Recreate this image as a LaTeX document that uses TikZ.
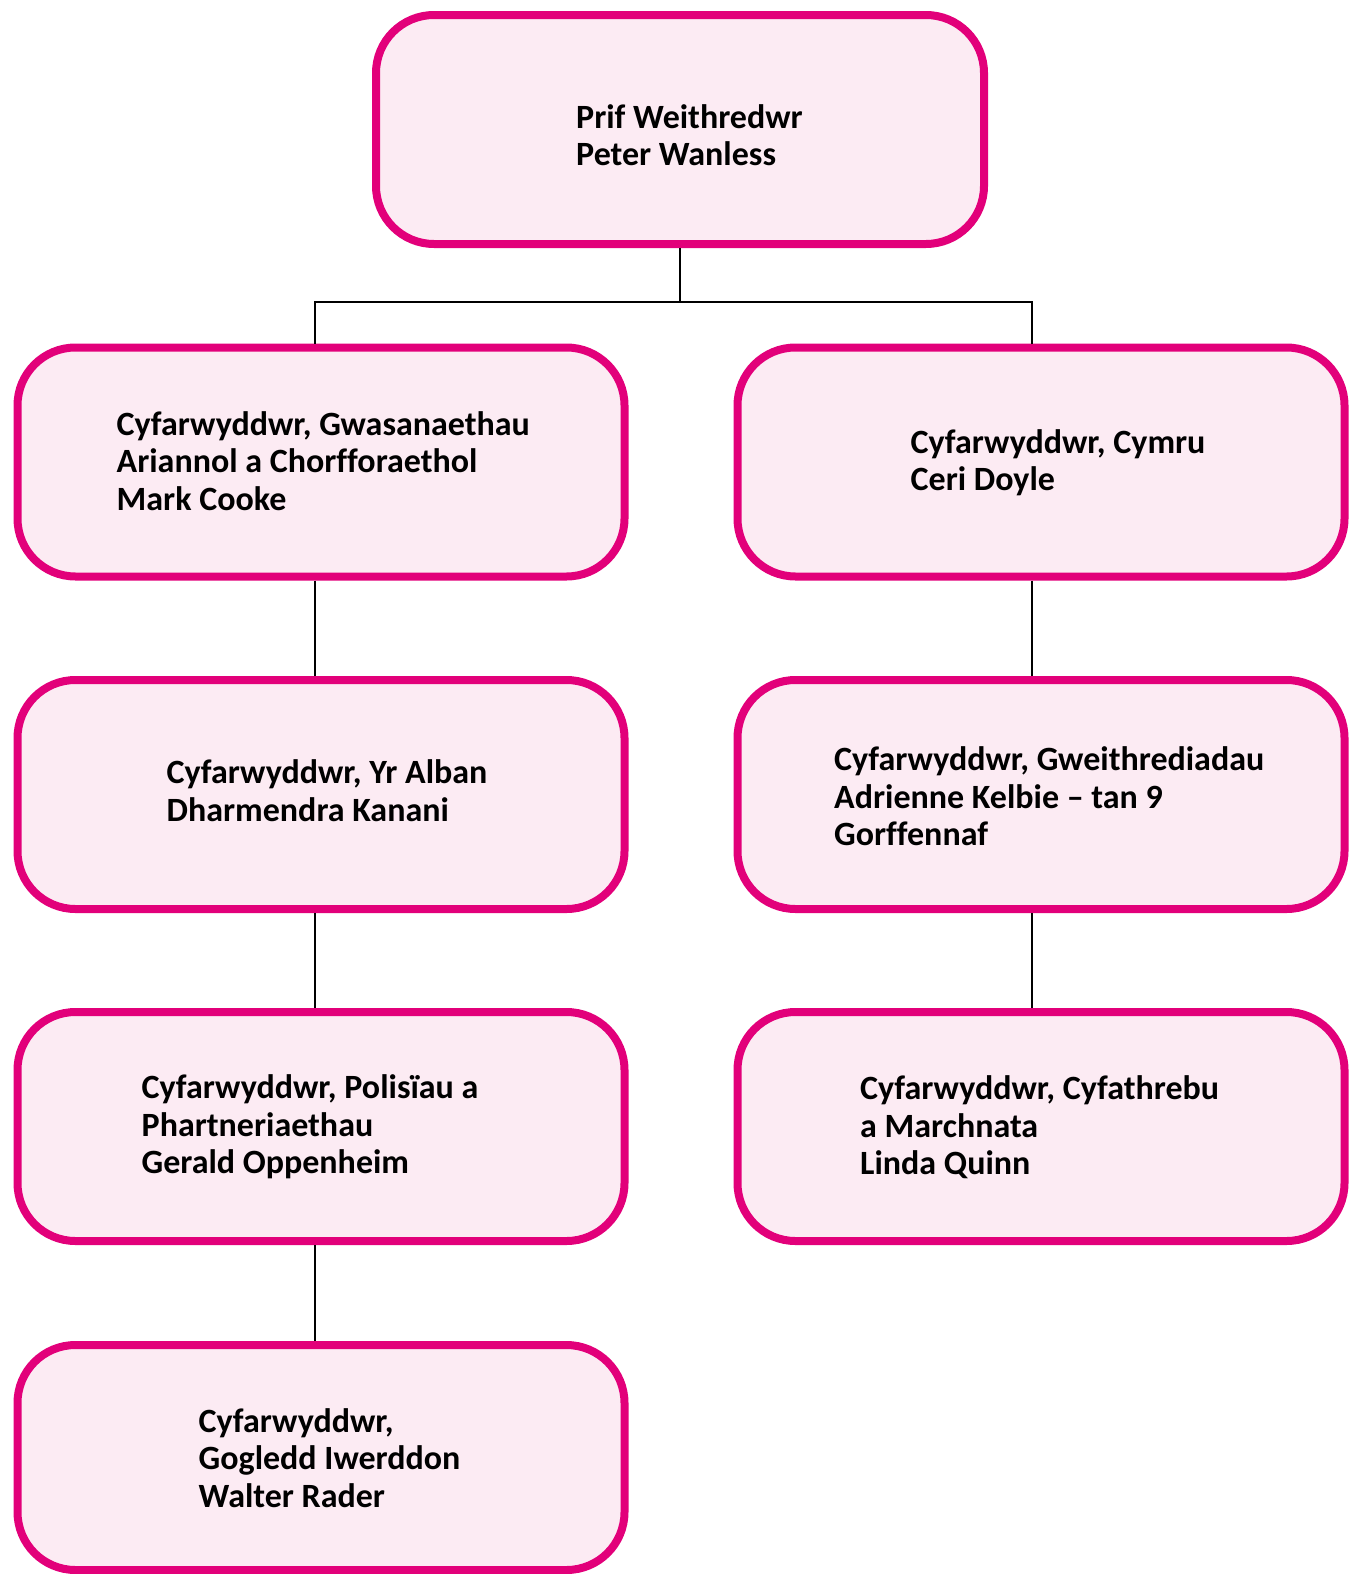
\documentclass[tikz,border=0pt]{standalone}
\usepackage{fontspec}
\setmainfont{Carlito}[Ligatures=CommonOff]
\definecolor{boxline}{HTML}{E2007A}
\definecolor{boxfill}{HTML}{FCEBF3}
\newcommand\mlines[1]{\vtop{\baselineskip=37.5pt\halign{##\hfil\cr#1\crcr}}}
\begin{document}
\begin{tikzpicture}[x=1pt,y=-1pt,
  orgbox/.style={draw=boxline,fill=boxfill,line width=8pt,rounded corners=58pt,
    inner sep=0pt,minimum width=607pt,minimum height=229pt},
  txt/.style={anchor=base west,inner sep=0pt,font=\fontsize{34}{37.5}\selectfont\bfseries},
  conn/.style={draw=black,line width=2pt}]
\useasboundingbox (0,0) rectangle (1354,1574);
% boxes
\node[orgbox,minimum width=608pt] (ceo) at (680,129.5) {};
\node[orgbox] (l1) at (321,462) {};
\node[orgbox] (r1) at (1041,462) {};
\node[orgbox] (l2) at (321,794.5) {};
\node[orgbox] (r2) at (1041,794.5) {};
\node[orgbox] (l3) at (321,1126.5) {};
\node[orgbox] (r3) at (1041,1126.5) {};
\node[orgbox,minimum height=225pt] (l4) at (321,1457.5) {};
% texts
\node[txt] (t0) at (576,128) {\mlines{Prif Weithredwr\cr Peter Wanless}};
\node[txt] (tl1) at (116.5,435) {\mlines{Cyfarwyddwr, Gwasanaethau\cr Ariannol a Chorfforaethol\cr Mark Cooke}};
\node[txt] (tr1) at (910.5,453) {\mlines{Cyfarwyddwr, Cymru\cr Ceri Doyle}};
\node[txt] (tl2) at (166.5,783.5) {\mlines{Cyfarwyddwr, Yr Alban\cr Dharmendra Kanani}};
\node[txt] (tr2) at (834,770.5) {\mlines{Cyfarwyddwr, Gweithrediadau\cr Adrienne Kelbie – tan 9\cr Gorffennaf}};
\node[txt] (tl3) at (141.5,1098.5) {\mlines{Cyfarwyddwr, Polisïau a\cr Phartneriaethau\cr Gerald Oppenheim}};
\node[txt] (tr3) at (860,1099.5) {\mlines{Cyfarwyddwr, Cyfathrebu\cr a Marchnata\cr Linda Quinn}};
\node[txt] (tl4) at (198.5,1432) {\mlines{Cyfarwyddwr,\cr Gogledd Iwerddon\cr Walter Rader}};
% connectors
\coordinate (jl) at (315,302);
\coordinate (jr) at (1032,302);
\draw[conn] (ceo.south) -- (ceo.south |- jl);
\draw[conn] (l1.north -| jl) -- (jl) -- (jr) -- (r1.north -| jr);
\draw[conn] (l1.south -| jl) -- (l2.north -| jl);
\draw[conn] (l2.south -| jl) -- (l3.north -| jl);
\draw[conn] (l3.south -| jl) -- (l4.north -| jl);
\draw[conn] (r1.south -| jr) -- (r2.north -| jr);
\draw[conn] (r2.south -| jr) -- (r3.north -| jr);
\end{tikzpicture}
\end{document}
